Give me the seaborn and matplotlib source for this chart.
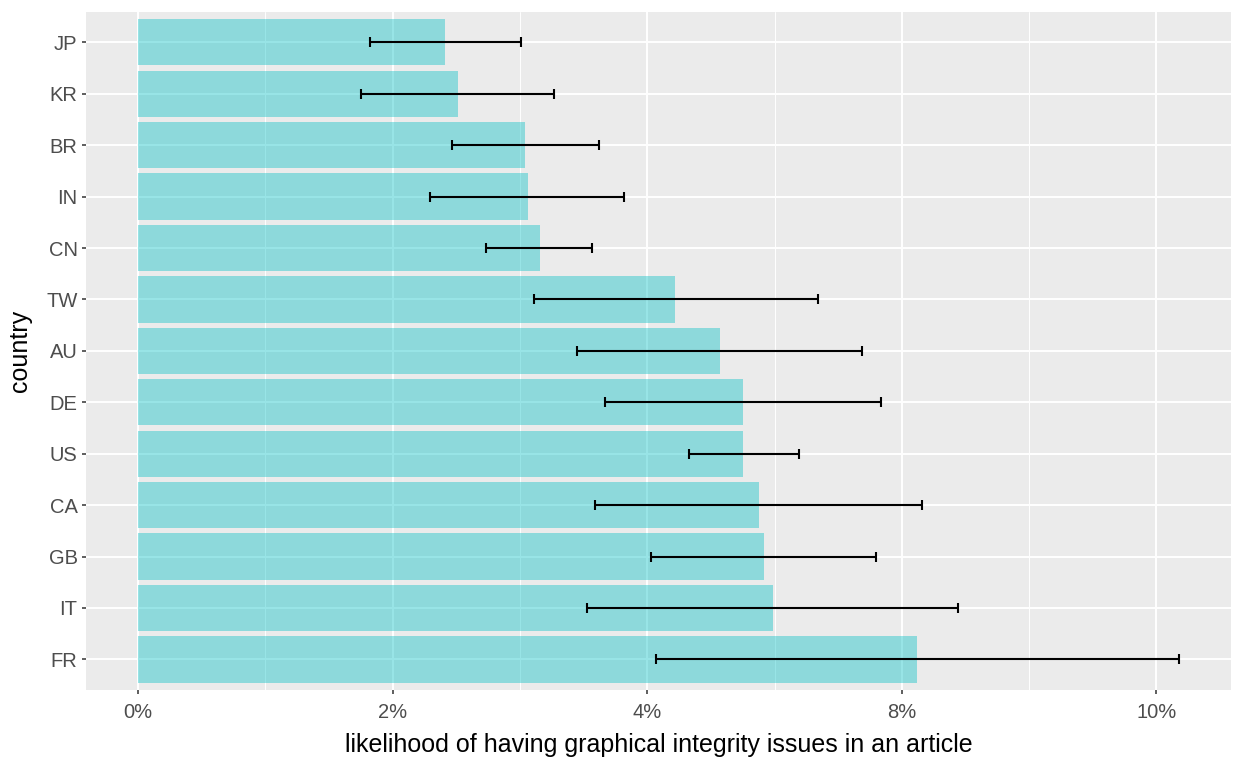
import matplotlib
matplotlib.use("Agg")
import matplotlib.pyplot as plt
import seaborn as sns
import pandas as pd
import numpy as np

# Countries, top to bottom
countries = ["JP", "KR", "BR", "IN", "CN", "TW", "AU", "DE", "US", "CA", "GB", "IT", "FR"]
# Estimated likelihood (axis units) and interval bounds
likelihood = [2.41, 2.51, 3.04, 3.06, 3.16, 4.22, 4.57, 4.75, 4.75, 4.88, 4.92, 4.99, 6.12]
lower = [1.82, 1.75, 2.47, 2.29, 2.73, 3.11, 3.45, 3.67, 4.33, 3.59, 4.03, 3.53, 4.07]
upper = [3.01, 3.27, 3.62, 3.82, 3.57, 5.34, 5.69, 5.84, 5.19, 6.16, 5.80, 6.44, 8.18]

# x-axis breaks and their labels
x_breaks = [0, 2, 4, 6, 8]
x_labels = ["0%", "2%", "4%", "8%", "10%"]
x_minor = [1, 3, 5, 7]

df = pd.DataFrame({"country": countries, "likelihood": likelihood,
                   "lower": lower, "upper": upper})

sns.set_theme(style="darkgrid")
plt.rcParams["font.family"] = ["Liberation Sans", "DejaVu Sans"]

fig = plt.figure(figsize=(12.33, 7.57), dpi=100)
ax = fig.add_axes([0.0697, 0.0882, 0.9287, 0.8966])
ax.set_facecolor("#EBEBEB")
ax.set_axisbelow(True)

sns.barplot(data=df, x="likelihood", y="country", order=countries, orient="h",
            color="#00BFC4", saturation=1, alpha=0.4, width=0.9,
            linewidth=0, errorbar=None, ax=ax)

ypos = np.arange(len(countries))
xerr = np.array([df["likelihood"] - df["lower"], df["upper"] - df["likelihood"]])
ax.errorbar(df["likelihood"], ypos, xerr=xerr, fmt="none", ecolor="black",
            elinewidth=1.5, capsize=3.6, capthick=1.5)

ax.set_xlim(-0.409, 8.586)
ax.set_ylim(len(countries) - 1 + 0.6, -0.6)

ax.set_xticks(x_breaks)
ax.set_xticklabels(x_labels)
ax.set_xticks(x_minor, minor=True)
ax.grid(which="major", color="white", linewidth=1.4)
ax.grid(which="minor", axis="x", color="white", linewidth=0.7)

for s in ax.spines.values():
    s.set_visible(False)

ax.tick_params(axis="both", which="major", length=3, width=1.1, color="#333333",
               labelcolor="#4D4D4D", labelsize=14.5, direction="out")
ax.tick_params(axis="x", which="major", pad=6)
ax.tick_params(axis="y", which="major", pad=3)
ax.tick_params(axis="x", which="minor", length=0)
ax.tick_params(bottom=True, left=True)

ax.set_xlabel("likelihood of having graphical integrity issues in an article",
              fontsize=18, color="black", labelpad=8)
ax.set_ylabel("country", fontsize=18, color="black", labelpad=10)

fig.savefig("out.png", dpi=100, facecolor="white")
